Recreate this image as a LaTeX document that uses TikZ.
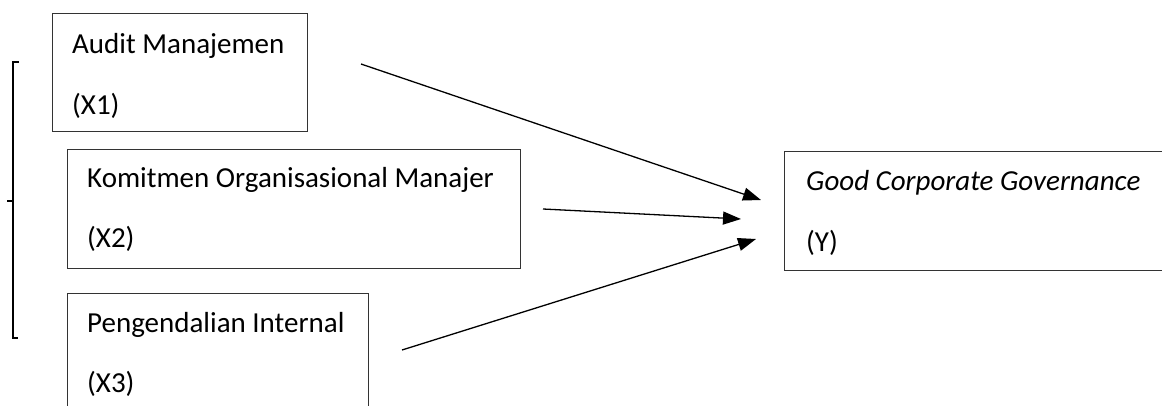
\documentclass[tikz,border=0pt]{standalone}
\usepackage{fontspec}
\setmainfont{Carlito}
\usetikzlibrary{arrows.meta}
\begin{document}
\begin{tikzpicture}[x=1pt,y=-1pt,
  varbox/.style={draw=black!80, line width=1.2pt, anchor=north west, inner sep=0pt},
  lbl/.style={anchor=base west, inner sep=0pt, font=\fontsize{29}{34}\selectfont},
  link/.style={line width=1.3pt, -{Triangle[length=18pt,width=13pt]}},
  brace/.style={line width=1.1pt}]
\useasboundingbox (0,0) rectangle (1162,405);
\clip (0,0) rectangle (1162,405);
% variable boxes
\node[varbox, minimum width=255pt, minimum height=118pt] (x1) at (52,13) {};
\node[varbox, minimum width=453pt, minimum height=119pt] (x2) at (67,149) {};
\node[varbox, minimum width=301pt, minimum height=140pt] (x3) at (67,293) {};
\node[varbox, minimum width=420pt, minimum height=119pt] (y) at (784,151) {};
% box texts
\node[lbl] (x1a) at (72,53) {Audit Manajemen};
\node[lbl] (x1b) at (72,114) {(X1)};
\node[lbl] (x2a) at (87,187) {Komitmen Organisasional Manajer};
\node[lbl] (x2b) at (87,247) {(X2)};
\node[lbl] (x3a) at (87,332) {Pengendalian Internal};
\node[lbl] (x3b) at (87,392) {(X3)};
\node[lbl] (ya) at (806,190) {\itshape Good Corporate Governance};
\node[lbl] (yb) at (806,251) {(Y)};
% arrow end points
\coordinate (s1) at (361,64);
\coordinate (t1) at (761,200);
\coordinate (s2) at (543,209);
\coordinate (t2) at (741,219);
\coordinate (s3) at (402,350);
\coordinate (t3) at (756,239);
\draw[link] (s1) -- (t1);
\draw[link] (s2) -- (t2);
\draw[link] (s3) -- (t3);
% left bracket grouping X1..X3
\coordinate (bt) at (19,62);
\coordinate (bb) at (18,338);
\coordinate (bm) at (7,201);
\draw[brace] (bt) -- (13,62) -- (13,338) -- (bb);
\draw[brace] (13,201) -- (bm);
\end{tikzpicture}
\end{document}
